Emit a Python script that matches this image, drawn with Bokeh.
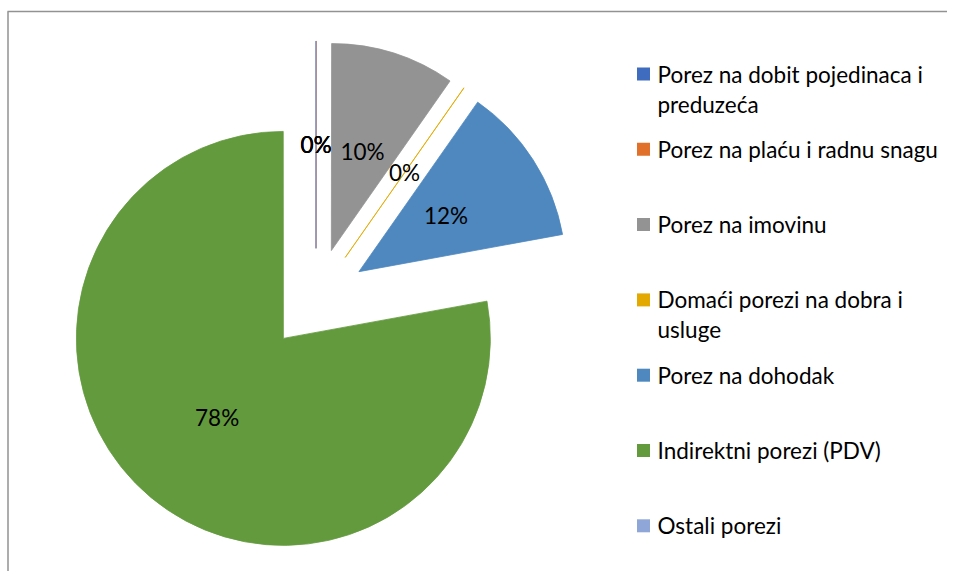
import math
import textwrap
import numpy as np
from bokeh.plotting import figure
from bokeh.models import Range1d, ColumnDataSource
from bokeh.core.properties import value
from bokeh.embed import file_html
from bokeh.resources import INLINE

# ---- data ----
categories = [
    "Porez na dobit pojedinaca i preduzeća",
    "Porez na plaću i radnu snagu",
    "Porez na imovinu",
    "Domaći porezi na dobra i usluge",
    "Porez na dohodak",
    "Indirektni porezi (PDV)",
    "Ostali porezi",
]
shares = [0.01, 0.01, 9.7, 0.01, 12.4, 77.9, 0.01]
colors = ["#3F6CBF", "#E0702A", "#939393", "#E3A900", "#4E88BF", "#639A3E", "#8FA6D8"]

# ---- layout ----
W, H = 947, 571
FONT = value("Lato")
FS = "22.5px"

def py(page_y):
    return H - page_y

p = figure(width=W, height=H, output_backend="svg", toolbar_location=None,
           x_range=Range1d(0, W), y_range=Range1d(0, H),
           min_border=0)
p.axis.visible = False
p.grid.visible = False
p.outline_line_color = None
p.background_fill_color = "white"

# chart frame (top and left edges visible)
p.segment(x0=[7, 7.5], y0=[py(11), py(11)], x1=[W, 7.5], y1=[py(11), py(H)],
          line_color="#929292", line_width=1.5)

# ---- pie ----
cx, cy = 315.5, py(298.7)
R = 207
D = 51
vals = np.array(shares, dtype=float)
cum = np.concatenate([[0.0], np.cumsum(vals)]) / vals.sum() * 2 * math.pi
t0, t1 = cum[:-1], cum[1:]
mid = (t0 + t1) / 2
vx = cx + D * np.sin(mid)
vy = cy + D * np.cos(mid)
src = ColumnDataSource(dict(
    x=vx, y=vy,
    start=math.pi / 2 - t1, end=math.pi / 2 - t0,
    color=colors,
    lx=vx + 0.5 * R * np.sin(mid), ly=vy + 0.5 * R * np.cos(mid),
    label=[f"{round(s)}%" for s in shares],
))
p.wedge(x="x", y="y", radius=R, start_angle="start", end_angle="end",
        fill_color="color", line_color="color", line_width=0.8,
        source=src)
p.text(x="lx", y="ly", text="label", source=src, text_font=FONT,
       text_font_size=FS, text_align="center", text_baseline="middle",
       text_color="#000000")

# ---- legend ----
lg_top = 73.5
lg_step = 75.3
line_sp = 30
mk_x, tx_x = 643, 657
mx, my, tx, ty, tt = [], [], [], [], []
for i, name in enumerate(categories):
    yc = lg_top + i * lg_step
    mx.append(mk_x)
    my.append(py(yc))
    for j, ln in enumerate(textwrap.wrap(name, 28)):
        tx.append(tx_x)
        ty.append(py(yc + j * line_sp))
        tt.append(ln)
p.scatter(x=mx, y=my, marker="square", size=13, fill_color=colors,
          line_color=None)
p.text(x=tx, y=ty, text=tt, text_font=FONT, text_font_size=FS,
       text_align="left", text_baseline="middle", text_color="#000000")

open("out.html", "w").write(file_html(p, INLINE))
